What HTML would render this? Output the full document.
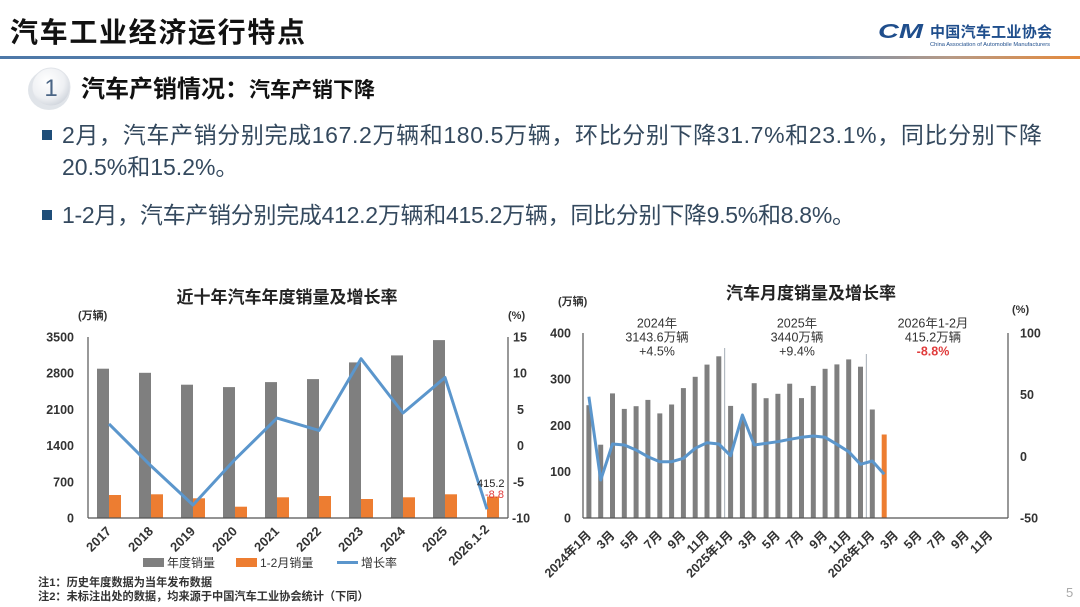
<!DOCTYPE html>
<html><head><meta charset="utf-8">
<style>
html,body{margin:0;padding:0;background:#fff;}
svg{display:block;}
text{font-family:"Liberation Sans","Noto Sans CJK SC",sans-serif;}
</style></head>
<body>
<svg width="1080" height="607" viewBox="0 0 1080 607" xmlns="http://www.w3.org/2000/svg">
<defs>
<linearGradient id="hl" x1="0" x2="1" y1="0" y2="0">
<stop offset="0" stop-color="#4d78a8"/>
<stop offset="0.75" stop-color="#6e8fb3"/>
<stop offset="0.88" stop-color="#b79a86"/>
<stop offset="1" stop-color="#e58a3c"/>
</linearGradient>
<radialGradient id="cg" cx="0.4" cy="0.35" r="0.75">
<stop offset="0" stop-color="#ffffff"/>
<stop offset="0.6" stop-color="#eef0f3"/>
<stop offset="1" stop-color="#c6ccd5"/>
</radialGradient>
</defs>
<rect width="1080" height="607" fill="#fff"/>

<!-- Header -->
<text x="10" y="42" font-size="28" font-weight="bold" fill="#111" textLength="295" lengthAdjust="spacing">汽车工业经济运行特点</text>
<text x="878" y="38" font-size="20" font-weight="bold" font-style="italic" fill="#1f4e8c" textLength="45" lengthAdjust="spacingAndGlyphs">CM</text>
<text x="930" y="37" font-size="15" font-weight="bold" fill="#1f4e8c" textLength="122" lengthAdjust="spacing">中国汽车工业协会</text>
<text x="930" y="46" font-size="5.5" fill="#1f4e8c" textLength="120" lengthAdjust="spacingAndGlyphs">China Association of Automobile Manufacturers</text>
<rect x="0" y="56" width="1080" height="3" fill="url(#hl)"/>

<!-- Section heading -->
<ellipse cx="49" cy="90" rx="21" ry="20" fill="#d3d8df" opacity="0.7"/>
<circle cx="51" cy="87" r="19" fill="url(#cg)" stroke="#e1e4e9" stroke-width="1"/>
<text x="51" y="96" font-size="24" fill="#4a6585" text-anchor="middle">1</text>
<text x="81" y="97" font-size="24" font-weight="bold" fill="#111">汽车产销情况：<tspan font-size="21">汽车产销下降</tspan></text>

<!-- Bullets -->
<rect x="42" y="130" width="10" height="10" fill="#1f4e79"/>
<text x="62" y="143" font-size="23" fill="#34495e" textLength="980" lengthAdjust="spacing">2月，汽车产销分别完成167.2万辆和180.5万辆，环比分别下降31.7%和23.1%，同比分别下降</text>
<text x="62" y="175" font-size="23" fill="#34495e">20.5%和15.2%。</text>
<rect x="42" y="210" width="10" height="10" fill="#1f4e79"/>
<text x="62" y="223" font-size="23" fill="#34495e" textLength="793" lengthAdjust="spacing">1-2月，汽车产销分别完成412.2万辆和415.2万辆，同比分别下降9.5%和8.8%。</text>

<!-- ================= LEFT CHART ================= -->
<text x="287" y="303" font-size="17" font-weight="bold" fill="#222" text-anchor="middle">近十年汽车年度销量及增长率</text>
<text x="78" y="319" font-size="11" font-weight="bold" fill="#333">(万辆)</text>
<text x="508" y="319" font-size="11" font-weight="bold" fill="#333">(%)</text>

<g font-size="12.5" font-weight="bold" fill="#333" text-anchor="end">
<text x="74" y="341.5">3500</text>
<text x="74" y="377.7">2800</text>
<text x="74" y="413.9">2100</text>
<text x="74" y="450.1">1400</text>
<text x="74" y="486.3">700</text>
<text x="74" y="522.5">0</text>
</g>
<g font-size="12.5" font-weight="bold" fill="#333">
<text x="513" y="341.5">15</text>
<text x="513" y="377.7">10</text>
<text x="517" y="413.9">5</text>
<text x="517" y="450.1">0</text>
<text x="513" y="486.3">-5</text>
<text x="512" y="522.5">-10</text>
</g>

<!-- gray bars -->
<g fill="#7f7f7f">
<rect x="97" y="368.7" width="12" height="149.3"/>
<rect x="139" y="372.8" width="12" height="145.2"/>
<rect x="181" y="384.7" width="12" height="133.3"/>
<rect x="223" y="387.1" width="12" height="130.9"/>
<rect x="265" y="382.1" width="12" height="135.9"/>
<rect x="307" y="379.1" width="12" height="138.9"/>
<rect x="349" y="362.4" width="12" height="155.6"/>
<rect x="391" y="355.4" width="12" height="162.6"/>
<rect x="433" y="340.1" width="12" height="177.9"/>
</g>
<!-- orange bars -->
<g fill="#ed7d31">
<rect x="109" y="495" width="12" height="23"/>
<rect x="151" y="494.3" width="12" height="23.7"/>
<rect x="193" y="498.3" width="12" height="19.7"/>
<rect x="235" y="506.7" width="12" height="11.3"/>
<rect x="277" y="497.3" width="12" height="20.7"/>
<rect x="319" y="496" width="12" height="22"/>
<rect x="361" y="499" width="12" height="19"/>
<rect x="403" y="497.3" width="12" height="20.7"/>
<rect x="445" y="494.3" width="12" height="23.7"/>
<rect x="487" y="496.5" width="12" height="21.5"/>
</g>
<!-- axes -->
<g stroke="#555" stroke-width="1.2" fill="none">
<line x1="88" y1="337" x2="88" y2="518"/>
<line x1="88" y1="518" x2="508" y2="518"/>
<line x1="508" y1="337" x2="508" y2="518"/>
</g>
<polyline fill="none" stroke="#5b96cc" stroke-width="3" stroke-linejoin="round"
points="109,423.9 151,465.9 193,505 235,459.4 277,418.1 319,430.4 361,358.7 403,413 445,377.5 487,509.3"/>
<text x="477" y="487" font-size="11" fill="#222">415.2</text>
<text x="485" y="498" font-size="11" fill="#e03c3c">-8.8</text>

<!-- x labels left -->
<g font-size="13" font-weight="bold" fill="#333" text-anchor="end">
<text x="112" y="532" transform="rotate(-45 112 532)">2017</text>
<text x="154" y="532" transform="rotate(-45 154 532)">2018</text>
<text x="196" y="532" transform="rotate(-45 196 532)">2019</text>
<text x="238" y="532" transform="rotate(-45 238 532)">2020</text>
<text x="280" y="532" transform="rotate(-45 280 532)">2021</text>
<text x="322" y="532" transform="rotate(-45 322 532)">2022</text>
<text x="364" y="532" transform="rotate(-45 364 532)">2023</text>
<text x="406" y="532" transform="rotate(-45 406 532)">2024</text>
<text x="448" y="532" transform="rotate(-45 448 532)">2025</text>
<text x="490" y="530" transform="rotate(-45 490 530)">2026.1-2</text>
</g>

<!-- legend left -->
<rect x="143" y="558" width="21" height="9" fill="#7f7f7f"/>
<text x="167" y="567" font-size="12" fill="#333">年度销量</text>
<rect x="236" y="558" width="21" height="9" fill="#ed7d31"/>
<text x="260" y="567" font-size="12" fill="#333">1-2月销量</text>
<line x1="337" y1="562.5" x2="358" y2="562.5" stroke="#5b96cc" stroke-width="3"/>
<text x="361" y="567" font-size="12" fill="#333">增长率</text>

<!-- notes -->
<text x="38" y="586" font-size="11.2" font-weight="bold" fill="#333">注1：历史年度数据为当年发布数据</text>
<text x="38" y="600" font-size="11.2" font-weight="bold" fill="#333">注2：未标注出处的数据，均来源于中国汽车工业协会统计（下同）</text>

<!-- ================= RIGHT CHART ================= -->
<text x="811" y="299" font-size="17" font-weight="bold" fill="#222" text-anchor="middle">汽车月度销量及增长率</text>
<text x="558" y="305" font-size="11" font-weight="bold" fill="#333">(万辆)</text>
<text x="1012" y="313" font-size="11" font-weight="bold" fill="#333">(%)</text>

<g font-size="12.5" font-weight="bold" fill="#333" text-anchor="end">
<text x="571" y="337.5">400</text>
<text x="571" y="383.7">300</text>
<text x="571" y="430">200</text>
<text x="571" y="476.2">100</text>
<text x="571" y="522.5">0</text>
</g>
<g font-size="12.5" font-weight="bold" fill="#333">
<text x="1020" y="337.5">100</text>
<text x="1020" y="399.2">50</text>
<text x="1020" y="461">0</text>
<text x="1020" y="522.5">-50</text>
</g>

<g fill="#7f7f7f">
<rect x="586.4" y="405.2" width="5" height="112.8"/>
<rect x="598.2" y="444.7" width="5" height="73.3"/>
<rect x="610.0" y="393.4" width="5" height="124.6"/>
<rect x="621.8" y="408.9" width="5" height="109.1"/>
<rect x="633.6" y="406.2" width="5" height="111.8"/>
<rect x="645.4" y="399.9" width="5" height="118.1"/>
<rect x="657.3" y="413.4" width="5" height="104.6"/>
<rect x="669.1" y="404.5" width="5" height="113.5"/>
<rect x="680.9" y="388.1" width="5" height="129.9"/>
<rect x="692.7" y="376.8" width="5" height="141.2"/>
<rect x="704.5" y="364.6" width="5" height="153.4"/>
<rect x="716.3" y="356.3" width="5" height="161.7"/>
<rect x="728.1" y="405.9" width="5" height="112.1"/>
<rect x="739.9" y="419.5" width="5" height="98.5"/>
<rect x="751.7" y="383.2" width="5" height="134.8"/>
<rect x="763.6" y="398.2" width="5" height="119.8"/>
<rect x="775.4" y="393.8" width="5" height="124.2"/>
<rect x="787.2" y="383.7" width="5" height="134.3"/>
<rect x="799.0" y="398.1" width="5" height="119.9"/>
<rect x="810.8" y="385.9" width="5" height="132.1"/>
<rect x="822.6" y="368.8" width="5" height="149.2"/>
<rect x="834.4" y="364.4" width="5" height="153.6"/>
<rect x="846.2" y="359.4" width="5" height="158.6"/>
<rect x="858.0" y="366.7" width="5" height="151.3"/>
<rect x="869.8" y="409.5" width="5" height="108.5"/>
</g>
<rect x="881.7" y="434.5" width="5" height="83.5" fill="#ed7d31"/>

<g stroke="#9aa3ad" stroke-width="0.9">
<line x1="724.7" y1="348" x2="724.7" y2="518"/>
<line x1="866.3" y1="354" x2="866.3" y2="518"/>
</g>

<g stroke="#555" stroke-width="1.2" fill="none">
<line x1="583" y1="333" x2="583" y2="518"/>
<line x1="583" y1="518" x2="1008" y2="518"/>
<line x1="1008" y1="333" x2="1008" y2="518"/>
</g>

<polyline fill="none" stroke="#5b96cc" stroke-width="3" stroke-linejoin="round"
points="588.9,396.7 600.7,480 612.5,444 624.3,445 636.1,450 647.9,456.7 659.8,461.7 671.6,461.7 683.4,458.3 695.2,448.3 707.0,442.7 718.8,444 730.6,455.7 742.4,415 754.2,445 766.1,443.3 777.9,441.7 789.7,439.3 801.5,437.3 813.3,436 825.1,437.3 836.9,444.3 848.7,451.7 860.5,464.3 872.3,461 884.2,474.3"/>

<!-- annotations -->
<g font-size="12.5" fill="#333" text-anchor="middle">
<text x="657" y="327.5">2024年</text>
<text x="657" y="341.5">3143.6万辆</text>
<text x="657" y="355.5">+4.5%</text>
<text x="797" y="327.5">2025年</text>
<text x="797" y="341.5">3440万辆</text>
<text x="797" y="355.5">+9.4%</text>
<text x="933" y="327.5">2026年1-2月</text>
<text x="933" y="341.5">415.2万辆</text>
<text x="933" y="355.5" fill="#e03c3c" font-weight="bold">-8.8%</text>
</g>

<!-- x labels right -->
<g font-size="12.5" font-weight="bold" fill="#333" text-anchor="end">
<text x="592" y="536" transform="rotate(-45 592 536)">2024年1月</text>
<text x="615.5" y="536" transform="rotate(-45 615.5 536)">3月</text>
<text x="639.1" y="536" transform="rotate(-45 639.1 536)">5月</text>
<text x="662.8" y="536" transform="rotate(-45 662.8 536)">7月</text>
<text x="686.4" y="536" transform="rotate(-45 686.4 536)">9月</text>
<text x="710" y="536" transform="rotate(-45 710 536)">11月</text>
<text x="733.6" y="536" transform="rotate(-45 733.6 536)">2025年1月</text>
<text x="757.2" y="536" transform="rotate(-45 757.2 536)">3月</text>
<text x="780.9" y="536" transform="rotate(-45 780.9 536)">5月</text>
<text x="804.5" y="536" transform="rotate(-45 804.5 536)">7月</text>
<text x="828.1" y="536" transform="rotate(-45 828.1 536)">9月</text>
<text x="851.7" y="536" transform="rotate(-45 851.7 536)">11月</text>
<text x="875.3" y="536" transform="rotate(-45 875.3 536)">2026年1月</text>
<text x="899" y="536" transform="rotate(-45 899 536)">3月</text>
<text x="922.6" y="536" transform="rotate(-45 922.6 536)">5月</text>
<text x="946.2" y="536" transform="rotate(-45 946.2 536)">7月</text>
<text x="969.8" y="536" transform="rotate(-45 969.8 536)">9月</text>
<text x="993.4" y="536" transform="rotate(-45 993.4 536)">11月</text>
</g>

<text x="1066" y="597" font-size="13" fill="#aaa">5</text>
</svg>
</body></html>
